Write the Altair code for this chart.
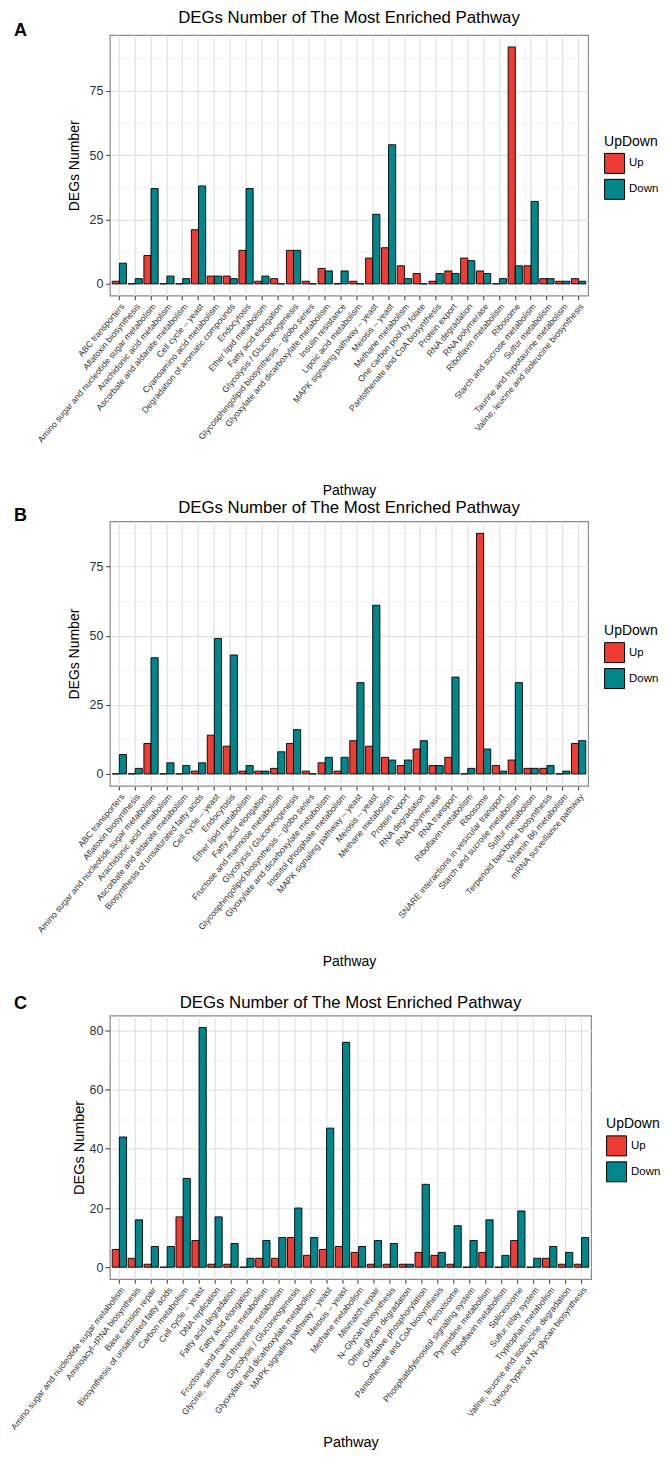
import altair as alt
import pandas as pd

FONT = "Liberation Sans"
UP_COLOR = "#EE3B33"
DOWN_COLOR = "#00878C"

panel_letters = ["A", "B", "C"]
chart_title = "DEGs Number of The Most Enriched Pathway"

# ---------------- Panel A ----------------
pathways_a = [
    "ABC transporters", "Aflatoxin biosynthesis",
    "Amino sugar and nucleotide sugar metabolism", "Arachidonic acid metabolism",
    "Ascorbate and aldarate metabolism", "Cell cycle – yeast",
    "Cyanoamino acid metabolism", "Degradation of aromatic compounds",
    "Endocytosis", "Ether lipid metabolism", "Fatty acid elongation",
    "Glycolysis / Gluconeogenesis", "Glycosphingolipid biosynthesis – globo series",
    "Glyoxylate and dicarboxylate metabolism", "Insulin resistance",
    "Lipoic acid metabolism", "MAPK signaling pathway – yeast", "Meiosis – yeast",
    "Methane metabolism", "One carbon pool by folate",
    "Pantothenate and CoA biosynthesis", "Protein export", "RNA degradation",
    "RNA polymerase", "Riboflavin metabolism", "Ribosome",
    "Starch and sucrose metabolism", "Sulfur metabolism",
    "Taurine and hypotaurine metabolism", "Valine, leucine and isoleucine biosynthesis",
]
up_a = [1, 0, 11, 0, 0, 21, 3, 3, 13, 1, 2, 13, 1, 6, 0,
        1, 10, 14, 7, 4, 1, 5, 10, 5, 0, 92, 7, 2, 1, 2]
down_a = [8, 2, 37, 3, 2, 38, 3, 2, 37, 3, 0, 13, 0, 5, 5,
          0, 27, 54, 2, 0, 4, 4, 9, 4, 2, 7, 32, 2, 1, 1]

# ---------------- Panel B ----------------
pathways_b = [
    "ABC transporters", "Aflatoxin biosynthesis",
    "Amino sugar and nucleotide sugar metabolism", "Arachidonic acid metabolism",
    "Ascorbate and aldarate metabolism", "Biosynthesis of unsaturated fatty acids",
    "Cell cycle – yeast", "Endocytosis", "Ether lipid metabolism",
    "Fatty acid elongation", "Fructose and mannose metabolism",
    "Glycolysis / Gluconeogenesis", "Glycosphingolipid biosynthesis – globo series",
    "Glyoxylate and dicarboxylate metabolism", "Inositol phosphate metabolism",
    "MAPK signaling pathway – yeast", "Meiosis – yeast", "Methane metabolism",
    "Protein export", "RNA degradation", "RNA polymerase", "RNA transport",
    "Riboflavin metabolism", "Ribosome", "SNARE interactions in vesicular transport",
    "Starch and sucrose metabolism", "Sulfur metabolism",
    "Terpenoid backbone biosynthesis", "Vitamin B6 metabolism",
    "mRNA surveillance pathway",
]
up_b = [0, 0, 11, 0, 0, 1, 14, 10, 1, 1, 2, 11, 1, 4, 1,
        12, 10, 6, 3, 9, 3, 6, 0, 87, 3, 5, 2, 2, 0, 11]
down_b = [7, 2, 42, 4, 3, 4, 49, 43, 3, 1, 8, 16, 0, 6, 6,
          33, 61, 5, 5, 12, 3, 35, 2, 9, 1, 33, 2, 3, 1, 12]

# ---------------- Panel C ----------------
pathways_c = [
    "Amino sugar and nucleotide sugar metabolism", "Aminoacyl–tRNA biosynthesis",
    "Base excision repair", "Biosynthesis of unsaturated fatty acids",
    "Carbon metabolism", "Cell cycle – yeast", "DNA replication",
    "Fatty acid degradation", "Fatty acid elongation",
    "Fructose and mannose metabolism", "Glycine, serine and threonine metabolism",
    "Glycolysis / Gluconeogenesis", "Glyoxylate and dicarboxylate metabolism",
    "MAPK signaling pathway – yeast", "Meiosis – yeast", "Methane metabolism",
    "Mismatch repair", "N–Glycan biosynthesis", "Other glycan degradation",
    "Oxidative phosphorylation", "Pantothenate and CoA biosynthesis",
    "Peroxisome", "Phosphatidylinositol signaling system",
    "Pyrimidine metabolism", "Riboflavin metabolism", "Spliceosome",
    "Sulfur relay system", "Tryptophan metabolism",
    "Valine, leucine and isoleucine degradation",
    "Various types of N–glycan biosynthesis",
]
up_c = [6, 3, 1, 0, 17, 9, 1, 1, 0, 3, 3, 10, 4, 6, 7,
        5, 1, 1, 1, 5, 4, 1, 0, 5, 0, 9, 0, 3, 1, 1]
down_c = [44, 16, 7, 7, 30, 81, 17, 8, 3, 9, 10, 20, 10, 47, 76,
          7, 9, 8, 1, 28, 5, 14, 9, 16, 4, 19, 3, 7, 5, 10]

y_major_ab = [0, 25, 50, 75]
y_major_c = [0, 20, 40, 60, 80]
groups = ["Up", "Down"]


def panel(letter, pathways, up, down, major, width, height, sizes, label_angle,
          x_title_pad, y_axis, title_y, letter_y, legend_x, legend_y):
    title_fs, axis_title_fs, tick_fs, xlab_fs = sizes
    y_tick_size, y_label_pad, y_title_pad = y_axis
    df = pd.DataFrame({
        "Pathway": pathways * 2,
        "UpDown": [groups[0]] * len(pathways) + [groups[1]] * len(pathways),
        "DEGs": up + down,
    })
    ymax = max(up + down)
    domain = [-0.05 * ymax, 1.05 * ymax]
    step = major[1] - major[0]
    tick_vals = []
    for m in major:
        tick_vals.append(m)
        if m + step / 2 <= domain[1]:
            tick_vals.append(m + step / 2)
    minor = f"abs(datum.value % {step}) > 0.001"

    bars = alt.Chart(df).mark_bar(stroke="black", strokeWidth=0.9).encode(
        x=alt.X(
            "Pathway:N", sort=pathways, title="Pathway",
            scale=alt.Scale(paddingInner=0.1, paddingOuter=0.15),
            axis=alt.Axis(
                labelAngle=label_angle, labelAlign="right", labelBaseline="top",
                labelFontSize=xlab_fs, labelPadding=2, labelLimit=400,
                grid=True, bandPosition=0.5, gridColor="#E3E3E3", gridWidth=1.2,
                tickSize=4, titleFontSize=axis_title_fs, titlePadding=x_title_pad,
            ),
        ),
        xOffset=alt.XOffset("UpDown:N", sort=groups,
                            scale=alt.Scale(paddingInner=0, paddingOuter=0)),
        y=alt.Y(
            "DEGs:Q", title="DEGs Number", stack=False,
            scale=alt.Scale(domain=domain, nice=False, zero=False),
            axis=alt.Axis(
                values=tick_vals,
                labelExpr=f"{minor} ? '' : datum.label",
                tickOpacity={"condition": {"test": minor, "value": 0}, "value": 1},
                gridColor={"condition": {"test": minor, "value": "#EFEFEF"}, "value": "#E3E3E3"},
                gridWidth={"condition": {"test": minor, "value": 0.8}, "value": 1.2},
                labelFontSize=tick_fs, tickSize=y_tick_size, labelPadding=y_label_pad,
                titleFontSize=axis_title_fs, titlePadding=y_title_pad,
            ),
        ),
        y2=alt.datum(0),
        color=alt.Color(
            "UpDown:N", sort=groups, title="UpDown",
            scale=alt.Scale(domain=groups, range=[UP_COLOR, DOWN_COLOR]),
            legend=alt.Legend(
                orient="none", legendX=width + legend_x, legendY=legend_y,
                symbolType="square", symbolSize=400, symbolStrokeColor="black",
                symbolStrokeWidth=1, rowPadding=1, labelOffset=4,
                titlePadding=4, padding=0,
            ),
        ),
    )

    title_mark = alt.Chart(pd.DataFrame({"t": [chart_title]})).mark_text(
        font=FONT, fontSize=title_fs, align="center", baseline="alphabetic",
        color="black",
    ).encode(text="t:N", x=alt.value(width / 2), y=alt.value(title_y))

    letter_mark = alt.Chart(pd.DataFrame({"panel": [letter]})).mark_text(
        font=FONT, fontSize=18, fontWeight="bold", align="left", baseline="middle",
        color="black",
    ).encode(text="panel:N", x=alt.value(-96), y=alt.value(letter_y))

    return alt.layer(bars, title_mark, letter_mark).properties(width=width, height=height)


pa = panel(panel_letters[0], pathways_a, up_a, down_a, y_major_ab, 479, 261,
           (16.8, 14, 12.5, 8.7), -50, 40, (4, 3, 7), -12, -4, 16, 100)
pb = panel(panel_letters[1], pathways_b, up_b, down_b, y_major_ab, 479, 265,
           (16.8, 14, 12.5, 8.7), -50, 20, (4, 3, 7), -8, -5, 16, 103)
pc = panel(panel_letters[2], pathways_c, up_c, down_c, y_major_c, 482, 264,
           (16.8, 14.5, 12.5, 8.7), -52, 4, (5, 2, 2), -8, -12, 15, 102)

res = dict(x="independent", y="independent", xOffset="independent", color="independent")
top_pair = alt.vconcat(pa, pb, spacing=0).resolve_scale(**res).resolve_legend(color="independent")

chart = alt.vconcat(top_pair, pc, spacing=24).resolve_scale(**res).resolve_legend(
    color="independent"
).properties(
    padding={"left": 0, "top": 0, "right": 0, "bottom": 0}
).configure_view(
    stroke="#8A8A8A", strokeWidth=1.2
).configure_axis(
    domain=False, labelFont=FONT, titleFont=FONT, labelColor="#333333",
    titleColor="black", tickColor="#333333", titleFontWeight="normal",
).configure_legend(
    titleFont=FONT, labelFont=FONT, titleFontSize=14, labelFontSize=11.5,
    titleFontWeight="normal", titleColor="black", labelColor="black",
)

chart.save("out.html", embed_options={"renderer": "svg", "actions": False})
